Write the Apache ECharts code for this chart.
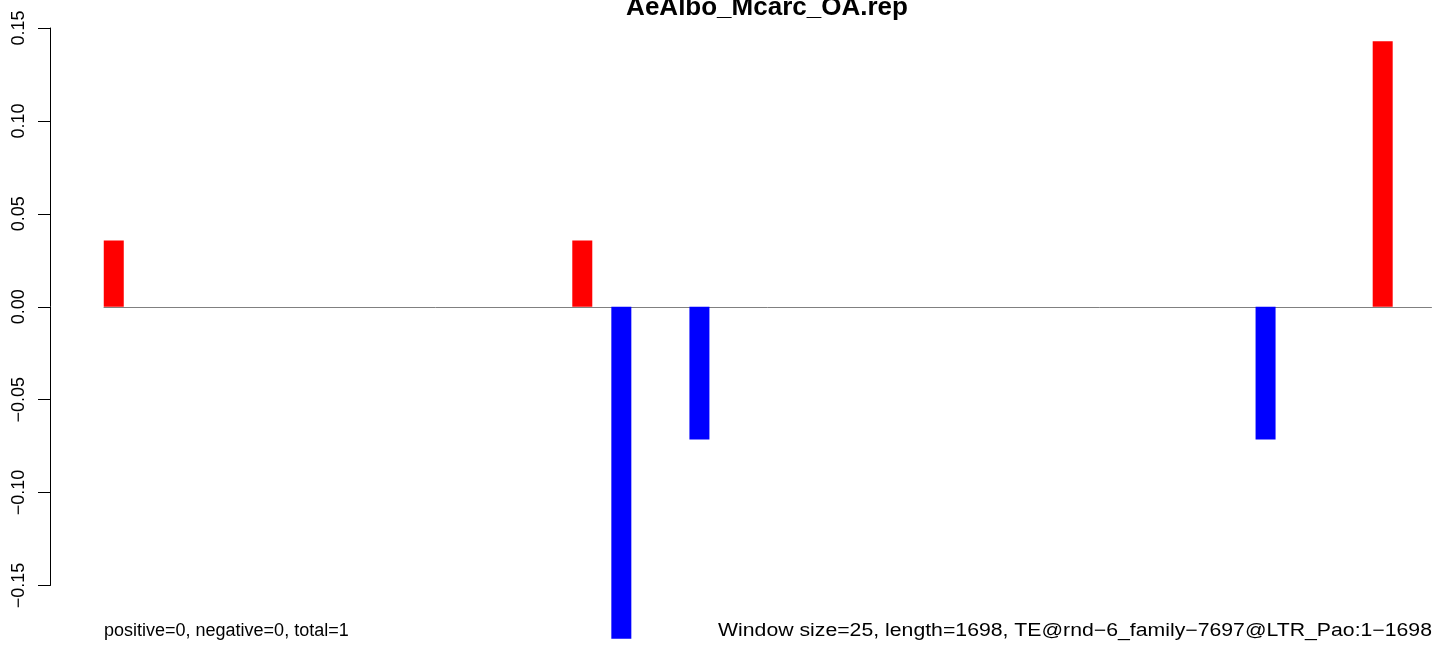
<!DOCTYPE html>
<html>
<head>
<meta charset="utf-8">
<script src="https://cdn.jsdelivr.net/npm/echarts@6/dist/echarts.min.js"></script>
<style>
html,body{margin:0;padding:0;background:#fff;}
#chart{width:1433px;height:645px;}
</style>
</head>
<body>
<div id="chart"></div>
<script>
// ---- data ----
var chartTitle = 'AeAlbo_Mcarc_OA.rep';
var leftNote = 'positive=0, negative=0, total=1';
var rightNote = 'Window size=25, length=1698, TE@rnd\u22126_family\u22127697@LTR_Pao:1\u22121698';
// window index (68 windows of 25 bp)
var windows = [];
for (var i = 1; i <= 68; i++) windows.push(String(i));
// score per window (non-zero windows)
var scores = [
  0.0357, 0, 0, 0, 0, 0, 0, 0, 0, 0,
  0, 0, 0, 0, 0, 0, 0, 0, 0, 0,
  0, 0, 0, 0, 0.0357, 0, -0.1786, 0, 0, 0,
  -0.0714, 0, 0, 0, 0, 0, 0, 0, 0, 0,
  0, 0, 0, 0, 0, 0, 0, 0, 0, 0,
  0, 0, 0, 0, 0, 0, 0, 0, 0, -0.0714,
  0, 0, 0, 0, 0, 0.1429, 0, 0
];
var yTicks = [-0.15, -0.10, -0.05, 0.00, 0.05, 0.10, 0.15];

var chart = echarts.init(document.getElementById('chart'), null, {renderer: 'canvas'});
var FONT = '"Liberation Sans", Arial, Helvetica, sans-serif';
chart.setOption({
  animation: false,
  backgroundColor: '#ffffff',
  grid: {left: 104, right: 1.5, top: 28, bottom: 59.5, containLabel: false},
  xAxis: {
    type: 'category',
    data: windows,
    boundaryGap: true,
    axisLine: {show: true, onZero: true, lineStyle: {color: '#808080', width: 1}},
    axisTick: {show: false},
    axisLabel: {show: false},
    splitLine: {show: false}
  },
  yAxis: {
    type: 'value',
    min: yTicks[0],
    max: yTicks[yTicks.length - 1],
    interval: 0.05,
    offset: 54,
    axisLine: {show: true, lineStyle: {color: '#000', width: 1}},
    axisTick: {show: true, length: 12, inside: false, lineStyle: {color: '#000', width: 1}},
    axisLabel: {
      show: true,
      rotate: 90,
      margin: 22,
      color: '#000',
      fontSize: 18,
      fontFamily: FONT,
      formatter: function (v) { return v.toFixed(2).replace('-', '\u2212'); }
    },
    splitLine: {show: false}
  },
  series: [{
    type: 'bar',
    data: scores,
    barWidth: 20,
    clip: false,
    itemStyle: {
      color: function (p) { return p.value >= 0 ? '#ff0000' : '#0000ff'; }
    }
  }],
  graphic: [
    {type: 'text', style: {text: chartTitle, x: 767, y: 8, align: 'center', verticalAlign: 'middle', font: 'bold 26px ' + FONT, fill: '#000'}},
    {type: 'text', style: {text: leftNote, x: 104, y: 631, align: 'left', verticalAlign: 'middle', font: '18px ' + FONT, fill: '#000'}},
    {type: 'text', x: 1432, y: 631, scaleX: 1.18, style: {text: rightNote, x: 0, y: 0, align: 'right', verticalAlign: 'middle', font: '18px ' + FONT, fill: '#000'}}
  ]
});
</script>
</body>
</html>
